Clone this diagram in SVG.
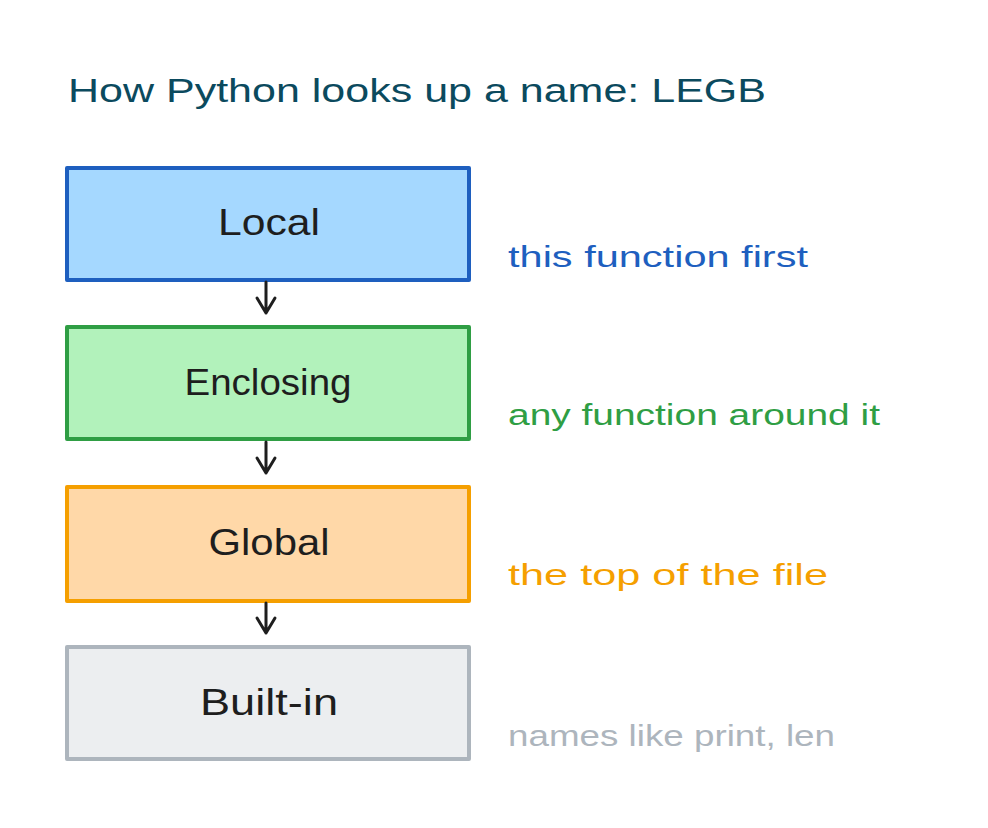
<svg xmlns="http://www.w3.org/2000/svg" width="988" height="828" viewBox="0 0 988 828">
<style>
.box{stroke-width:4;stroke-linejoin:round}
.lbl{font-family:"Liberation Sans",sans-serif;font-size:36px;fill:#1e1e1e;text-anchor:middle}
.side{font-family:"Liberation Sans",sans-serif;font-size:30px}
.conn{stroke:#1e1e1e;stroke-width:3;fill:none;stroke-linecap:round;stroke-linejoin:round}
</style>
<rect width="988" height="828" fill="#ffffff"/>
<text x="68" y="102" font-family="Liberation Sans, sans-serif" font-size="34" fill="#0b4a5e" textLength="698" lengthAdjust="spacingAndGlyphs">How Python looks up a name: LEGB</text>
<g id="local">
<rect class="box" x="67" y="168" width="402" height="112" fill="#a5d8ff" stroke="#1e5fbf"/>
<text class="lbl" x="269" y="235" textLength="102" lengthAdjust="spacingAndGlyphs">Local</text>
</g>
<g id="enclosing">
<rect class="box" x="67" y="327" width="402" height="112" fill="#b2f2bb" stroke="#2f9e44"/>
<text class="lbl" x="268" y="395" textLength="167" lengthAdjust="spacingAndGlyphs">Enclosing</text>
</g>
<g id="global">
<rect class="box" x="67" y="487" width="402" height="114" fill="#ffd8a8" stroke="#f59f00"/>
<text class="lbl" x="269" y="555" textLength="121" lengthAdjust="spacingAndGlyphs">Global</text>
</g>
<g id="builtin">
<rect class="box" x="67" y="647" width="402" height="112" fill="#eceef0" stroke="#adb5bd"/>
<text class="lbl" x="269" y="715" textLength="138" lengthAdjust="spacingAndGlyphs">Built-in</text>
</g>
<g id="notes">
<text class="side" x="508" y="267" fill="#1e5fbf" textLength="300" lengthAdjust="spacingAndGlyphs">this function first</text>
<text class="side" x="508" y="425" fill="#2f9e44" textLength="372" lengthAdjust="spacingAndGlyphs">any function around it</text>
<text class="side" x="508" y="585" fill="#f59f00" textLength="320" lengthAdjust="spacingAndGlyphs">the top of the file</text>
<text class="side" x="508" y="746" fill="#adb5bd" textLength="327" lengthAdjust="spacingAndGlyphs">names like print, len</text>
</g>
<g id="connectors">
<path class="conn" d="M266 282 L266 313 M257 298 L266 313 L275 298"/>
<path class="conn" d="M266 442 L266 473 M257 458 L266 473 L275 458"/>
<path class="conn" d="M266 603 L266 633 M257 618 L266 633 L275 618"/>
</g>
</svg>
